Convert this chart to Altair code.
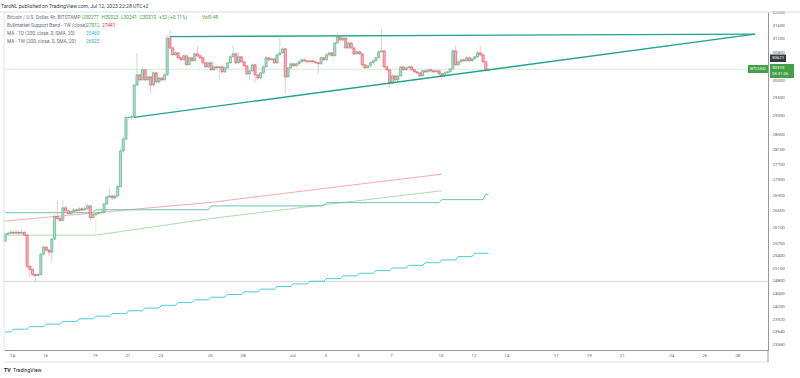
import altair as alt
import pandas as pd

FONT = "Roboto"

# ---------------- data ----------------
candle_start = "2023-06-13 14:00"   # first 4h candle (UTC+2)
first_open = 25752
closes = [25924, 25947, 25971, 25947, 25971, 25947, 25971, 25900, 25145, 25072,
          24951, 24927, 24951, 25436, 25607, 25534, 25485, 25801, 26360, 26311,
          26263, 26579, 26506, 26433, 26481, 26530, 26506, 26554, 26530, 26554,
          26627, 26336, 26409, 26433, 26457, 26457, 26676, 26853, 26880, 26827,
          26880, 27119, 28050, 28369, 28954, 28954, 28981, 29860, 30149, 30005,
          30294, 30005, 30091, 29860, 30207, 29947, 30062, 30005, 30149, 31219,
          30930, 30727, 30785, 30641, 30583, 30699, 30438, 30641, 30554, 30756,
          30699, 30641, 30496, 30380, 30496, 30294, 30380, 30351, 30380, 30236,
          30351, 30496, 30670, 30756, 30496, 30670, 30525, 30409, 30178, 30265,
          30438, 30149, 30062, 30207, 30380, 30641, 30583, 30612, 30496, 30727,
          30785, 30901, 30091, 30351, 30467, 30409, 30467, 30525, 30583, 30554,
          30525, 30554, 30525, 30496, 30467, 30641, 30583, 30727, 30785, 30699,
          31074, 31248, 31161, 31219, 30930, 31074, 30930, 30756, 30814, 30756,
          30438, 30351, 30409, 30496, 30554, 30641, 30814, 30843, 30380, 30294,
          29918, 30120, 30005, 30120, 30380, 30294, 30351, 30380, 30294, 30236,
          30207, 30120, 30265, 30236, 30294, 30265, 30236, 30265, 30178, 30120,
          30207, 30236, 30322, 30843, 30438, 30525, 30583, 30554, 30641, 30554,
          30612, 30670, 30785, 30727, 30525, 30277, 30310]
highs = [25960, 25990, 26010, 26000, 26040, 26000, 26050, 26000, 25920, 25160,
         25090, 24990, 24990, 25480, 25660, 25640, 25560, 25830, 26420, 26773,
         26350, 26773, 26620, 26530, 26520, 26570, 26560, 26600, 26590, 26620,
         26680, 26650, 26440, 26470, 26500, 26520, 26720, 26900, 27080, 26920,
         26950, 27170, 28120, 28450, 29030, 29020, 29040, 29900, 30780, 30180,
         30380, 30320, 30130, 30120, 30270, 30230, 30100, 30090, 30200, 31330,
         31450, 30960, 30830, 30800, 30680, 30740, 30720, 30680, 30670, 30800,
         31006, 30720, 30660, 30520, 30530, 30510, 30420, 30400, 30420, 30400,
         30380, 30530, 30710, 31006, 30790, 30800, 30700, 30540, 30420, 30300,
         30480, 30460, 30170, 30240, 30420, 30700, 30670, 30650, 30630, 30760,
         31219, 30960, 30930, 30390, 30500, 30490, 30500, 30560, 30620, 30610,
         30580, 30590, 30580, 30550, 30530, 30680, 30660, 30760, 30820, 30800,
         31110, 31390, 31260, 31250, 31230, 31110, 31090, 30950, 30840, 30840,
         30770, 30460, 30440, 30530, 30580, 30680, 30850, 31500, 30870, 30400,
         30310, 30160, 30140, 30150, 30420, 30400, 30380, 30410, 30400, 30310,
         30250, 30220, 30290, 30290, 30320, 30320, 30290, 30300, 30280, 30190,
         30240, 30260, 30350, 30900, 31006, 30560, 30620, 30620, 30680, 30680,
         30650, 30700, 30850, 30990, 30760, 30540, 30323]
lows = [25720, 25900, 25920, 25910, 25930, 25900, 25930, 25880, 25100, 24877,
        24900, 24780, 24890, 24920, 25400, 25500, 25380, 25240, 25780, 26280,
        26220, 26240, 26470, 26400, 26410, 26450, 26470, 26480, 26500, 26500,
        26520, 26260, 26300, 26380, 26410, 26420, 26440, 26650, 26830, 26780,
        26790, 26850, 27100, 28000, 28340, 28900, 28880, 28960, 29820, 29960,
        29980, 29960, 29980, 29629, 29830, 29900, 29920, 29960, 29980, 30120,
        30900, 30690, 30700, 30600, 30540, 30560, 30400, 30420, 30520, 30540,
        30660, 30610, 30460, 30340, 30350, 30250, 30260, 30300, 30005, 30180,
        30200, 30330, 30470, 30650, 30450, 30470, 30490, 30370, 30130, 30000,
        30240, 29918, 29990, 30030, 30180, 30350, 30540, 30560, 30460, 30470,
        30700, 30760, 29629, 30060, 30320, 30380, 30390, 30440, 30500, 30530,
        30500, 30500, 30500, 30470, 30178, 30440, 30550, 30560, 30700, 30670,
        30680, 31040, 31120, 31140, 30900, 30900, 30900, 30720, 30730, 30720,
        30400, 30320, 30330, 30380, 30470, 30530, 30620, 30790, 30330, 30260,
        29774, 29880, 29960, 29980, 30090, 30260, 30270, 30330, 30260, 30200,
        30170, 30080, 30100, 30200, 30210, 30230, 30200, 30210, 30130, 30010,
        30090, 30180, 30210, 30300, 30400, 30400, 30500, 30520, 30520, 30520,
        30530, 30580, 30640, 30690, 30490, 30240, 30241]

# MA 200 on the daily chart (one value per day, Jun 13 .. Jul 12)
ma1d_first_day = "2023-06-13"
ma1d_values = [23627, 23690, 23748, 23805, 23866, 23925, 23985, 24045, 24108, 24170,
               24233, 24296, 24358, 24420, 24482, 24545, 24607, 24668, 24730, 24792,
               24855, 24918, 24980, 25043, 25105, 25168, 25232, 25298, 25378, 25460]

# MA 200 on the weekly chart
ma1w_starts = ["2023-06-12 02:00", "2023-06-19 02:00", "2023-06-26 02:00",
               "2023-07-03 02:00", "2023-07-10 02:00", "2023-07-12 18:00"]
ma1w_values = [26457, 26530, 26627, 26710, 26786, 26923]

# Bull market support band (weekly points)
band_weeks = ["2023-06-12 02:00", "2023-06-19 02:00", "2023-06-26 02:00",
              "2023-07-03 02:00", "2023-07-10 02:00"]
band_ema = [26190, 26457, 26717, 27079, 27441]
band_sma = [25900, 25900, 26311, 26664, 27012]

# drawn trend lines (triangle)
trend_upper_t = ["2023-06-23 14:00", "2023-07-29 02:00"]
trend_upper_p = [31262, 31334]
trend_lower_t = ["2023-06-21 09:30", "2023-07-29 02:00"]
trend_lower_p = [28960, 31334]

last_price = 30310
hline_price = 24790

y_ticks = [32000, 31600, 31200, 30800, 30000, 29500, 29000, 28500, 28100, 27700,
           27300, 26900, 26500, 26100, 25700, 25400, 25100, 24800, 24500, 24200,
           23920, 23640, 23360]
x_tick_dates = ["2023-06-14", "2023-06-16", "2023-06-19", "2023-06-21", "2023-06-23",
                "2023-06-26", "2023-06-28", "2023-07-01", "2023-07-03", "2023-07-05",
                "2023-07-07", "2023-07-10", "2023-07-12", "2023-07-14", "2023-07-17",
                "2023-07-19", "2023-07-21", "2023-07-24", "2023-07-26", "2023-07-28"]
x_tick_labels = ["14", "16", "19", "21", "23", "26", "28", "Jul", "3", "5", "7",
                 "10", "12", "14", "17", "19", "21", "24", "26", "28"]

# ---------------- helpers ----------------
REF = pd.Timestamp("2023-06-14 00:00")


def dnum(t):
    return (pd.Timestamp(t) - REF) / pd.Timedelta(days=1)


x_domain = [-0.4854, 45.874]
y_domain = [23228, 32000]
PW, PH = 764, 338
OX, OY = 4, 12

xscale = alt.Scale(domain=x_domain, nice=False, zero=False)
yscale = alt.Scale(type="log", domain=y_domain, nice=False, zero=False)

tick_days = [round(dnum(t), 3) for t in x_tick_dates]
expr = "''"
for dv, lab in reversed(list(zip(tick_days, x_tick_labels))):
    expr = f"abs(datum.value - {dv}) < 0.01 ? '{lab}' : ({expr})"

AX_COL = "#5d606b"
xaxis = alt.Axis(values=tick_days, labelExpr=expr, title=None, grid=False, ticks=False,
                 domainColor="#9598a1", domainWidth=1, labelFont=FONT, labelFontSize=4.4,
                 labelColor=AX_COL, labelPadding=3, labelFlush=False, labelOverlap=False,
                 labelBound=False)
yaxis = alt.Axis(orient="right", values=y_ticks, format="d", title=None, grid=False,
                 ticks=False, domainColor="#9598a1", domainWidth=1, labelFont=FONT,
                 labelFontSize=4.4, labelColor=AX_COL, labelPadding=4, labelAlign="left",
                 labelOverlap=False, labelFlush=False, labelBound=False)


def X(field):
    return alt.X(field, scale=xscale, axis=xaxis)


def Y(field):
    return alt.Y(field, scale=yscale, axis=yaxis)


# ---------------- frames ----------------
times = [pd.Timestamp(candle_start) + pd.Timedelta(hours=4 * i) for i in range(len(closes))]
opens = [first_open] + closes[:-1]
df = pd.DataFrame({"t": times, "o": opens, "h": highs, "l": lows, "c": closes})
df["d"] = [dnum(t) for t in df.t]
df["dir"] = ["up" if c >= o else "down" for o, c in zip(df.o, df.c)]
df["top"] = df[["o", "c"]].max(axis=1)
df["bot"] = df[["o", "c"]].min(axis=1)
half = 0.066
df["x1"] = df.d - half
df["x2"] = df.d + half
df = df.drop(columns=["t"])

# MA per candle
days = pd.date_range(ma1d_first_day, periods=len(ma1d_values), freq="D")
dmap = dict(zip(days, ma1d_values))
wstarts = [pd.Timestamp(s) for s in ma1w_starts]
ma1d_c, ma1w_c = [], []
for t in times:
    ma1d_c.append(dmap[(t - pd.Timedelta(hours=2)).normalize()])
    v = None
    for s, val in zip(wstarts, ma1w_values):
        if s <= t:
            v = val
    ma1w_c.append(v)
ma_df = pd.DataFrame({"d": [dnum(t) for t in times], "m1d": ma1d_c, "m1w": ma1w_c})

band_df = pd.DataFrame({"d": [dnum(t) for t in band_weeks], "ema": band_ema, "sma": band_sma})
up_df = pd.DataFrame({"d": [dnum(t) for t in trend_upper_t], "p": trend_upper_p})
lo_df = pd.DataFrame({"d": [dnum(t) for t in trend_lower_t], "p": trend_lower_p})

GREEN = "#43a047"
RED = "#f0283c"
color_body = alt.Color("dir:N", scale=alt.Scale(domain=["up", "down"], range=[GREEN, RED]), legend=None)
color_wick = alt.Color("dir:N", scale=alt.Scale(domain=["up", "down"], range=["#a9d9e0", "#f7b3bf"]), legend=None)

dummy = pd.DataFrame({"a": [0]})

layers = []

# price line & horizontal drawing
layers.append(alt.Chart(pd.DataFrame({"p": [last_price]})).mark_rule(color="#c5e5c6", strokeWidth=0.8).encode(y=Y("p:Q")))
layers.append(alt.Chart(pd.DataFrame({"p": [hline_price]})).mark_rule(color="#c9cbd1", strokeWidth=0.8).encode(y=Y("p:Q")))

# bull market band
layers.append(alt.Chart(band_df).mark_line(color="#f5a3a3", strokeWidth=0.9, clip=True).encode(x=X("d:Q"), y=Y("ema:Q")))
layers.append(alt.Chart(band_df).mark_line(color="#a8d5a8", strokeWidth=0.9, clip=True).encode(x=X("d:Q"), y=Y("sma:Q")))
layers.append(alt.Chart(band_df.iloc[[1]]).mark_rule(color="#f3e7a8", strokeWidth=0.8).encode(x=X("d:Q"), y=Y("sma:Q"), y2="ema:Q"))

# moving averages
layers.append(alt.Chart(ma_df).mark_line(color="#2ec4d6", strokeWidth=0.9).encode(x=X("d:Q"), y=Y("m1d:Q")))
layers.append(alt.Chart(ma_df).mark_line(color="#55b8ab", strokeWidth=0.9).encode(x=X("d:Q"), y=Y("m1w:Q")))

# candles
layers.append(alt.Chart(df).mark_rule(strokeWidth=0.8).encode(x=X("d:Q"), y=Y("l:Q"), y2="h:Q", color=color_wick))
layers.append(alt.Chart(df).mark_bar(strokeWidth=0.5).encode(
    x=X("x1:Q"), x2="x2:Q", y=Y("bot:Q"), y2="top:Q", color=color_body, stroke=color_body))

# trend lines
layers.append(alt.Chart(up_df).mark_line(color="#22a38f", strokeWidth=1.3).encode(x=X("d:Q"), y=Y("p:Q")))
layers.append(alt.Chart(lo_df).mark_line(color="#22a38f", strokeWidth=1.3).encode(x=X("d:Q"), y=Y("p:Q")))


# ---------------- frame decorations ----------------
def rule(x1, y1, x2, y2, color, w=1.0):
    return alt.Chart(dummy).mark_rule(color=color, strokeWidth=w).encode(
        x=alt.value(x1 - OX), x2=alt.value(x2 - OX), y=alt.value(y1 - OY), y2=alt.value(y2 - OY))


def rect(x1, y1, x2, y2, color):
    return alt.Chart(dummy).mark_rect(color=color).encode(
        x=alt.value(x1 - OX), x2=alt.value(x2 - OX), y=alt.value(y1 - OY), y2=alt.value(y2 - OY))


def label(s, x, y, color, size=4.8, align="left", weight="normal"):
    return alt.Chart(pd.DataFrame({"s": [s]})).mark_text(
        align=align, baseline="middle", font=FONT, fontSize=size, color=color, fontWeight=weight
    ).encode(x=alt.value(x - OX), y=alt.value(y - OY), text="s:N")


layers.append(rule(0, 12, 800, 12, "#d9dbe0"))
layers.append(rule(4, 12, 4, 350, "#e3e4e8"))
layers.append(rule(4, 362, 769, 362, "#e0e2e6"))
layers.append(rule(768, 350, 768, 362, "#9598a1"))

GRAY = "#6a6d78"
L1, L2, L3, L4 = 18, 25.5, 33.5, 41.5
layers.append(label("TaroNL published on TradingView.com, Jul 12, 2023 22:28 UTC+2", 1, 6, "#3a3d46", size=5.1))
layers.append(label("Bitcoin / U.S. Dollar, 4h, BITSTAMP", 7, L1, GRAY))
layers.append(label("O30277", 82, L1, GREEN))
layers.append(label("H30323", 101.5, L1, GREEN))
layers.append(label("L30241", 121, L1, GREEN))
layers.append(label("C30310", 139.5, L1, GREEN))
layers.append(label("+32 (+0.11%)", 159, L1, GREEN))
layers.append(label("Vol9.48", 202, L1, GREEN))
layers.append(label("Bullmarket Support Band - 1W (close)", 7, L2, GRAY))
layers.append(label("27012", 86, L2, GREEN))
layers.append(label("27441", 102, L2, RED))
layers.append(label("MA - 1D (200, close, 0, SMA, 20)", 7, L3, GRAY))
layers.append(label("25460", 86, L3, "#1fb8d0"))
layers.append(label("MA - 1W (200, close, 0, SMA, 20)", 7, L4, GRAY))
layers.append(label("26923", 86, L4, "#3aa99a"))

# price badges
layers.append(rect(748, 65, 768, 73, GREEN))
layers.append(label("BTCUSD", 758, 69, "white", size=4.1, align="center"))
layers.append(rect(770, 54.5, 786, 62, "#363a45"))
layers.append(label("30621", 778, 58.3, "white", size=4.4, align="center"))
layers.append(rect(770, 64, 794, 78, GREEN))
layers.append(label("30310", 772, 68, "white", size=4.4))
layers.append(label("03:31:06", 772, 74.3, "white", size=4.2))

# logo
layers.append(label("TV", 4, 370, "#131722", size=5.2, weight="bold"))
layers.append(label("TradingView", 13, 370, "#131722", size=5.2))

chart = alt.layer(*layers).properties(
    width=PW, height=PH,
    padding={"left": OX, "top": OY, "right": 800 - OX - PW, "bottom": 378 - OY - PH},
    autosize=alt.AutoSizeParams(type="none"),
    background="white",
).configure_view(strokeWidth=0)

chart.save("out.html", embed_options={"renderer": "svg", "actions": False})
